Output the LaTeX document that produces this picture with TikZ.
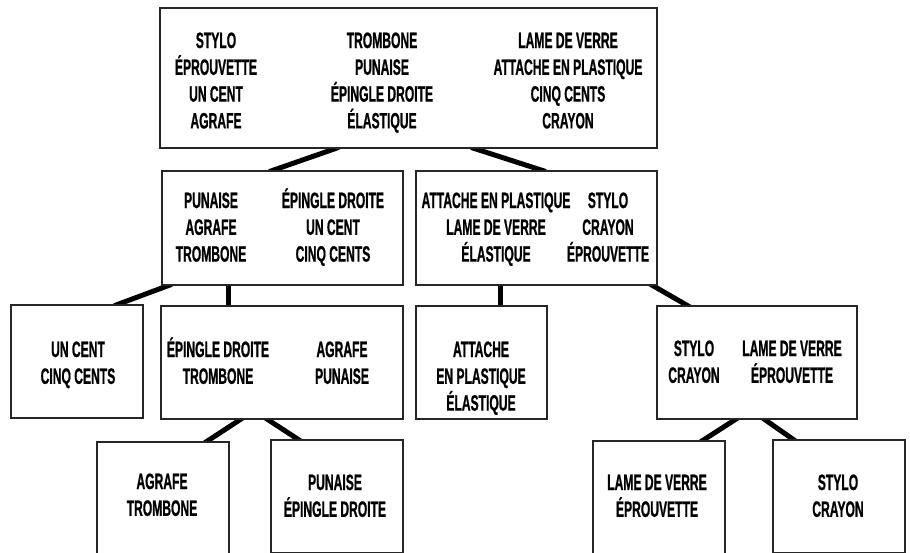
\documentclass[tikz,border=0pt]{standalone}
\usepackage{fontspec}
\newfontfamily\labfont{Liberation Sans}[FakeStretch=0.545,FakeBold=0.8]
\usetikzlibrary{backgrounds}
\begin{document}
\begin{tikzpicture}[x=1pt,y=-1pt,
  box/.style={draw=black!85,line width=1.4pt,fill=white,inner sep=0pt},
  txt/.style={font=\labfont\bfseries\fontsize{22.2}{26.8}\selectfont,align=center,anchor=base,inner sep=0pt},
  link/.style={line width=5pt,shorten <=-4pt,shorten >=-4pt}]
\useasboundingbox (0,0) rectangle (910,552);
\clip (0,0) rectangle (910,552);
% boxes
\node[box,minimum width=497pt,minimum height=140pt] (root) at (408.5,78) {};
\node[box,minimum width=241pt,minimum height=114pt] (l2a) at (282.5,228) {};
\node[box,minimum width=241pt,minimum height=114pt] (l2b) at (536.5,228) {};
\node[box,minimum width=132pt,minimum height=113pt] (l3a) at (77,361.5) {};
\node[box,minimum width=242pt,minimum height=113pt] (l3b) at (282,362.5) {};
\node[box,minimum width=131pt,minimum height=113pt] (l3c) at (481.5,362.5) {};
\node[box,minimum width=200pt,minimum height=113pt] (l3d) at (757,362.5) {};
\node[box,minimum width=132pt,minimum height=113pt] (l4a) at (163,498.5) {};
\node[box,minimum width=132pt,minimum height=113pt] (l4b) at (337,496.5) {};
\node[box,minimum width=132pt,minimum height=113pt] (l4c) at (659,497.5) {};
\node[box,minimum width=132pt,minimum height=113pt] (l4d) at (839,496.5) {};
% texts (anchor = baseline of the last line)
\node[txt] (t1a) at (216,128.4) {STYLO\\ÉPROUVETTE\\UN CENT\\AGRAFE};
\node[txt] (t1b) at (382,128.4) {TROMBONE\\PUNAISE\\ÉPINGLE DROITE\\ÉLASTIQUE};
\node[txt] (t1c) at (568,128.4) {LAME DE VERRE\\ATTACHE EN PLASTIQUE\\CINQ CENTS\\CRAYON};
\node[txt] (t2a) at (211,261.6) {PUNAISE\\AGRAFE\\TROMBONE};
\node[txt] (t2b) at (333,261.6) {ÉPINGLE DROITE\\UN CENT\\CINQ CENTS};
\node[txt] (t2c) at (496,261.6) {ATTACHE EN PLASTIQUE\\LAME DE VERRE\\ÉLASTIQUE};
\node[txt] (t2d) at (608,261.6) {STYLO\\CRAYON\\ÉPROUVETTE};
\node[txt] (t3a) at (78,383.8) {UN CENT\\CINQ CENTS};
\node[txt] (t3b) at (218,383.8) {ÉPINGLE DROITE\\TROMBONE};
\node[txt] (t3c) at (342,383.8) {AGRAFE\\PUNAISE};
\node[txt] (t3d) at (481,410.6) {ATTACHE\\EN PLASTIQUE\\ÉLASTIQUE};
\node[txt] (t3e) at (694,382.8) {STYLO\\CRAYON};
\node[txt] (t3f) at (792,382.8) {LAME DE VERRE\\ÉPROUVETTE};
\node[txt] (t4a) at (162,515.8) {AGRAFE\\TROMBONE};
\node[txt] (t4b) at (335,516.8) {PUNAISE\\ÉPINGLE DROITE};
\node[txt] (t4c) at (657,516.8) {LAME DE VERRE\\ÉPROUVETTE};
\node[txt] (t4d) at (838,516.8) {STYLO\\CRAYON};
% connectors, behind the boxes
\begin{pgfonlayer}{background}
\fill[white] (0,0) rectangle (910,552);
\draw[link] ([xshift=-73.5pt]root.south) -- ([xshift=-9.5pt]l2a.north);
\draw[link] ([xshift=66.5pt]root.south) -- ([xshift=5.5pt]l2b.north);
\draw[link] ([xshift=-114.5pt]l2a.south) -- ([xshift=41pt]l3a.north);
\draw[link] ([xshift=-54.5pt]l2a.south) -- ([xshift=-54pt]l3b.north);
\draw[link] ([xshift=-36.5pt]l2b.south) -- ([xshift=18.5pt]l3c.north);
\draw[link] ([xshift=116.5pt]l2b.south) -- ([xshift=-70pt]l3d.north);
\draw[link] ([xshift=-42pt]l3b.south) -- ([xshift=44pt]l4a.north);
\draw[link] ([xshift=-14pt]l3b.south) -- ([xshift=-39pt]l4b.north);
\draw[link] ([xshift=-22pt]l3d.south) -- ([xshift=44pt]l4c.north);
\draw[link] ([xshift=8pt]l3d.south) -- ([xshift=-46pt]l4d.north);
\end{pgfonlayer}
\end{tikzpicture}
\end{document}
